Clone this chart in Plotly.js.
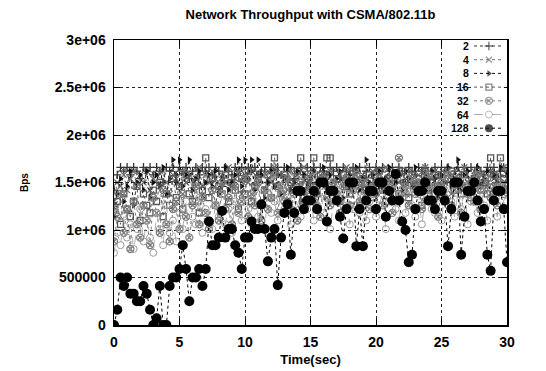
<!DOCTYPE html>
<html><head><meta charset="utf-8">
<script src="https://cdn.plot.ly/plotly-3.0.1.min.js"></script>
<style>html,body{margin:0;padding:0;background:#fff}#chart{width:546px;height:371px}</style>
</head><body><div id="chart"></div>
<script>
// time axis (seconds)
const timeSec = [0,0.25,0.5,0.75,1,1.25,1.5,1.75,2,2.25,2.5,2.75,3,3.25,3.5,3.75,4,
 4.25,4.5,4.75,5,5.25,5.5,5.75,6,6.25,6.5,6.75,7,7.25,7.5,7.75,8,
 8.25,8.5,8.75,9,9.25,9.5,9.75,10,10.25,10.5,10.75,11,11.25,11.5,11.75,12,
 12.25,12.5,12.75,13,13.25,13.5,13.75,14,14.25,14.5,14.75,15,15.25,15.5,15.75,16,
 16.25,16.5,16.75,17,17.25,17.5,17.75,18,18.25,18.5,18.75,19,19.25,19.5,19.75,20,
 20.25,20.5,20.75,21,21.25,21.5,21.75,22,22.25,22.5,22.75,23,23.25,23.5,23.75,24,
 24.25,24.5,24.75,25,25.25,25.5,25.75,26,26.25,26.5,26.75,27,27.25,27.5,27.75,28,
 28.25,28.5,28.75,29,29.25,29.5,29.75,30];

// throughput (Bps) per number of nodes
const bps2 = [1420000,1580000,1660000,1620000,1660000,1580000,1660000,1620000,1540000,1660000,
 1620000,1660000,1580000,1660000,1620000,1500000,1660000,1620000,1660000,1580000,
 1660000,1620000,1660000,1540000,1620000,1660000,1580000,1660000,1620000,1660000,
 1580000,1660000,1620000,1460000,1660000,1620000,1580000,1660000,1620000,1660000,
 1540000,1660000,1620000,1660000,1580000,1620000,1660000,1500000,1660000,1620000,
 1660000,1580000,1660000,1620000,1660000,1540000,1620000,1660000,1580000,1660000,
 1620000,1660000,1500000,1660000,1620000,1580000,1660000,1620000,1660000,1540000,
 1660000,1620000,1580000,1660000,1620000,1660000,1460000,1620000,1660000,1580000,
 1660000,1620000,1660000,1540000,1620000,1660000,1580000,1660000,1620000,1500000,
 1660000,1620000,1580000,1660000,1620000,1660000,1540000,1620000,1660000,1580000,
 1660000,1620000,1660000,1500000,1620000,1660000,1580000,1660000,1620000,1660000,
 1540000,1660000,1620000,1580000,1660000,1620000,1660000,1500000,1620000,1660000,
 1620000];
const bps4 = [1300000,1500000,1460000,1580000,1420000,1540000,1620000,1460000,1580000,1500000,
 1620000,1420000,1540000,1580000,1460000,1620000,1500000,1380000,1580000,1540000,
 1460000,1620000,1500000,1580000,1420000,1540000,1660000,1460000,1580000,1500000,
 1620000,1540000,1420000,1580000,1500000,1660000,1460000,1540000,1620000,1380000,
 1580000,1500000,1620000,1460000,1540000,1580000,1420000,1620000,1500000,1660000,
 1460000,1580000,1540000,1420000,1620000,1500000,1580000,1460000,1660000,1540000,
 1500000,1620000,1420000,1580000,1540000,1460000,1620000,1500000,1380000,1580000,
 1540000,1660000,1460000,1500000,1620000,1420000,1580000,1540000,1460000,1620000,
 1500000,1580000,1420000,1660000,1540000,1460000,1620000,1500000,1580000,1380000,
 1620000,1540000,1460000,1580000,1500000,1660000,1420000,1540000,1620000,1460000,
 1580000,1500000,1620000,1380000,1540000,1580000,1460000,1660000,1500000,1540000,
 1620000,1420000,1580000,1500000,1460000,1620000,1540000,1580000,1420000,1660000,
 1580000];
const bps8 = [1140000,1380000,1540000,1300000,1460000,1620000,1260000,1500000,1580000,1420000,
 1620000,1340000,1500000,1580000,1460000,1660000,1380000,1540000,1740000,1500000,
 1740000,1460000,1580000,1740000,1420000,1540000,1620000,1340000,1500000,1580000,
 1460000,1620000,1380000,1540000,1660000,1420000,1500000,1580000,1740000,1460000,
 1740000,1540000,1740000,1420000,1740000,1580000,1340000,1500000,1620000,1460000,
 1580000,1380000,1540000,1660000,1420000,1500000,1620000,1300000,1580000,1460000,
 1540000,1620000,1380000,1500000,1660000,1460000,1580000,1420000,1540000,1620000,
 1340000,1500000,1580000,1460000,1660000,1420000,1540000,1740000,1500000,1580000,
 1380000,1620000,1460000,1540000,1660000,1300000,1500000,1580000,1420000,1620000,
 1540000,1460000,1660000,1380000,1500000,1580000,1420000,1620000,1540000,1340000,
 1580000,1500000,1660000,1460000,1540000,1740000,1420000,1580000,1620000,1380000,
 1500000,1660000,1460000,1540000,1620000,1340000,1580000,1500000,1660000,1420000,
 1580000];
const bps16 = [1220000,1300000,1060000,1380000,1220000,1140000,1300000,1460000,1100000,1380000,
 1260000,1180000,1420000,1300000,1500000,1140000,1380000,1260000,1540000,1340000,
 1460000,1220000,1580000,1380000,1300000,1500000,1180000,1420000,1760000,1340000,
 1540000,1260000,1460000,1380000,1580000,1300000,1500000,1420000,1220000,1540000,
 1380000,1620000,1300000,1460000,1540000,1260000,1420000,1580000,1340000,1760000,
 1460000,1380000,1580000,1300000,1500000,1420000,1620000,1760000,1340000,1540000,
 1460000,1760000,1380000,1580000,1500000,1760000,1760000,1420000,1540000,1300000,
 1580000,1460000,1380000,1620000,1500000,1260000,1540000,1420000,1580000,1340000,
 1500000,1620000,1420000,1300000,1540000,1460000,1580000,1380000,1620000,1500000,
 1340000,1580000,1460000,1540000,1260000,1620000,1420000,1500000,1380000,1580000,
 1460000,1300000,1540000,1620000,1420000,1500000,1380000,1580000,1460000,1340000,
 1540000,1620000,1420000,1500000,1380000,1760000,1580000,1460000,1760000,1540000,
 1420000];
const bps32 = [880000,1140000,1380000,970000,1220000,800000,1300000,1060000,920000,1260000,
 1100000,840000,1340000,1180000,970000,1420000,1060000,880000,1220000,1300000,
 1010000,1380000,1140000,920000,1260000,1460000,1060000,1340000,1180000,1010000,
 1420000,1260000,1100000,1500000,1220000,1340000,1060000,1460000,1180000,1300000,
 1540000,1140000,1380000,1260000,1500000,1100000,1420000,1220000,1340000,1580000,
 1180000,1460000,1300000,1540000,1220000,1380000,1100000,1500000,1260000,1420000,
 1580000,1300000,1460000,1140000,1540000,1340000,1260000,1500000,1380000,1180000,
 1460000,1540000,1260000,1420000,1580000,1300000,1500000,1340000,1220000,1460000,
 1380000,1540000,1260000,1500000,1420000,1180000,1580000,1760000,1340000,1460000,
 1260000,1540000,1380000,1500000,1220000,1420000,1580000,1300000,1460000,1140000,
 1500000,1340000,1580000,1260000,1420000,1540000,1180000,1460000,1380000,1500000,
 1300000,1580000,1220000,1420000,1540000,1340000,1460000,1260000,1500000,1380000,
 1460000];
const bps64 = [760000,970000,840000,1140000,920000,1060000,800000,1010000,1220000,880000,
 1100000,920000,760000,1180000,1010000,840000,1260000,970000,1100000,880000,
 1180000,1010000,1300000,920000,1140000,1060000,1340000,970000,1220000,1100000,
 1010000,1260000,1140000,1380000,1060000,1220000,970000,1300000,1180000,1100000,
 1340000,1220000,1060000,1420000,1140000,1260000,1010000,1380000,1180000,1300000,
 1100000,1460000,1220000,1340000,1060000,1260000,1420000,1140000,1300000,1220000,
 1380000,1100000,1260000,1460000,1180000,1340000,1010000,1300000,1420000,1140000,
 1260000,1380000,1060000,1220000,1460000,1180000,1340000,1100000,1300000,1420000,
 1140000,1260000,1380000,1010000,1300000,1460000,1220000,1100000,1340000,1180000,
 1420000,1260000,1140000,1380000,1060000,1300000,1460000,1220000,1180000,1340000,
 1100000,1420000,1260000,1300000,1140000,1380000,1220000,1460000,1060000,1300000,
 1340000,1180000,1420000,1260000,1100000,1380000,1300000,1140000,1460000,1220000,
 1300000];
const bps128 = [0,160000,500000,410000,500000,330000,330000,250000,250000,410000,330000,160000,0,70000,410000,0,0,
 410000,500000,500000,590000,840000,590000,250000,500000,500000,590000,410000,590000,1090000,840000,840000,920000,
 1200000,920000,1010000,1010000,840000,760000,590000,920000,920000,1090000,1010000,1010000,1270000,1010000,670000,920000,
 1010000,420000,920000,1180000,1270000,740000,1180000,1410000,1410000,1220000,1310000,1310000,1410000,1220000,1500000,1500000,
 1090000,1410000,1410000,1310000,1140000,910000,1220000,1500000,1500000,830000,1220000,830000,1310000,1410000,1410000,1220000,
 1500000,1500000,1140000,1410000,1310000,1590000,1310000,1090000,1000000,660000,740000,1220000,1410000,1410000,1500000,1310000,
 1310000,1220000,1410000,1410000,1310000,830000,1220000,1500000,1500000,740000,1140000,1410000,1410000,1500000,1310000,1090000,
 1220000,740000,570000,1310000,1410000,1410000,1220000,660000];

const seriesNames = ['2','4','8','16','32','64','128'];
const yTickVals = [0,500000,1000000,1500000,2000000,2500000,3000000];
const yTickText = ['0','500000','1e+06','1.5e+06','2e+06','2.5e+06','3e+06'];
const xTickVals = [0,5,10,15,20,25,30];
const xTickText = ['0','5','10','15','20','25','30'];

const seriesY = [bps2,bps4,bps8,bps16,bps32,bps64,bps128];
const styles = [
  {color:'#333333', symbol:'cross-thin-open', size:6, dash:'dot', lw:1, mlw:1.3},
  {color:'#707070', symbol:'x-thin-open', size:6, dash:'dot', lw:1, mlw:1.3},
  {color:'#111111', symbol:'triangle-right', size:6, dash:'dot', lw:1, mlw:0},
  {color:'#555555', symbol:'square-open', size:6, dash:'dot', lw:1, mlw:1.3},
  {color:'#7a7a7a', symbol:'circle-x-open', size:7, dash:'dot', lw:1, mlw:1.3},
  {color:'#9a9a9a', symbol:'circle-open', size:7, dash:'dash', lw:0.8, mlw:1},
  {color:'#000000', symbol:'circle', size:10, dash:'dot', lw:1, mlw:0}
];

const FONT = 'Liberation Sans, Arial, sans-serif';
const traces = [];
seriesNames.forEach((n,i)=>{
  const s = styles[i];
  traces.push({
    type:'scatter', mode:'lines+markers', name:n, showlegend:false,
    x:timeSec, y:seriesY[i],
    line:{color:s.color, width:s.lw, dash:s.dash},
    marker:{color:s.color, symbol:s.symbol, size:s.size, line:{color:s.color, width:s.mlw}},
    hoverinfo:'skip'
  });
});
// gnuplot-style key: label on the left, line sample on the right
const annotations = [];
seriesNames.forEach((n,i)=>{
  const s = styles[i];
  traces.push({
    type:'scatter', mode:'lines+markers', showlegend:false, xaxis:'x2', yaxis:'y2',
    x:[0,0.5,1], y:[i,i,i],
    line:{color:s.color, width:s.lw, dash:s.dash},
    marker:{color:s.color, symbol:s.symbol, size:[0,Math.min(s.size,8),0], line:{color:s.color, width:s.mlw}},
    hoverinfo:'skip', cliponaxis:false
  });
  annotations.push({xref:'x2', yref:'y2', x:0, y:i, text:n, showarrow:false,
    xanchor:'right', yanchor:'middle', xshift:-4, borderpad:0,
    font:{family:FONT, size:10.5, weight:'bold', color:'#000'}});
});

const layout = {
  width:546, height:371,
  margin:{l:114, r:39, t:40, b:46},
  paper_bgcolor:'#fff', plot_bgcolor:'#fff',
  font:{family:FONT, size:14, color:'#000', weight:'bold'},
  title:{text:'Network Throughput with CSMA/802.11b', x:0.5, xref:'paper', y:0.96, yref:'container', yanchor:'middle',
    font:{family:FONT, size:13, weight:'bold', color:'#000'}},
  showlegend:false,
  xaxis:{range:[0,30], tickvals:xTickVals, ticktext:xTickText, showgrid:true, gridcolor:'#222', griddash:'dot', gridwidth:1,
    zeroline:false, showline:true, linecolor:'#000', linewidth:1.5, mirror:'ticks', ticks:'inside', ticklen:6, tickcolor:'#000',
    ticklabelstandoff:4,
    tickfont:{family:FONT, size:14, weight:'bold'},
    title:{text:'Time(sec)', standoff:5, font:{family:FONT, size:13, weight:'bold'}}},
  yaxis:{range:[0,3000000], tickvals:yTickVals, ticktext:yTickText, showgrid:true, gridcolor:'#222', griddash:'dot', gridwidth:1,
    zeroline:false, showline:true, linecolor:'#000', linewidth:1.5, mirror:'ticks', ticks:'inside', ticklen:6, tickcolor:'#000',
    ticklabelstandoff:4,
    tickfont:{family:FONT, size:14, weight:'bold'},
    title:{text:'Bps', standoff:24, font:{family:FONT, size:10, weight:'bold'}}},
  xaxis2:{domain:[0.916,0.992], range:[0,1], visible:false, fixedrange:true, anchor:'y2'},
  yaxis2:{domain:[0.68,1.0], range:[6.219,-0.438], visible:false, fixedrange:true, anchor:'x2'},
  annotations:annotations
};
Plotly.newPlot('chart', traces, layout, {staticPlot:true, displayModeBar:false});
</script>
</body></html>
